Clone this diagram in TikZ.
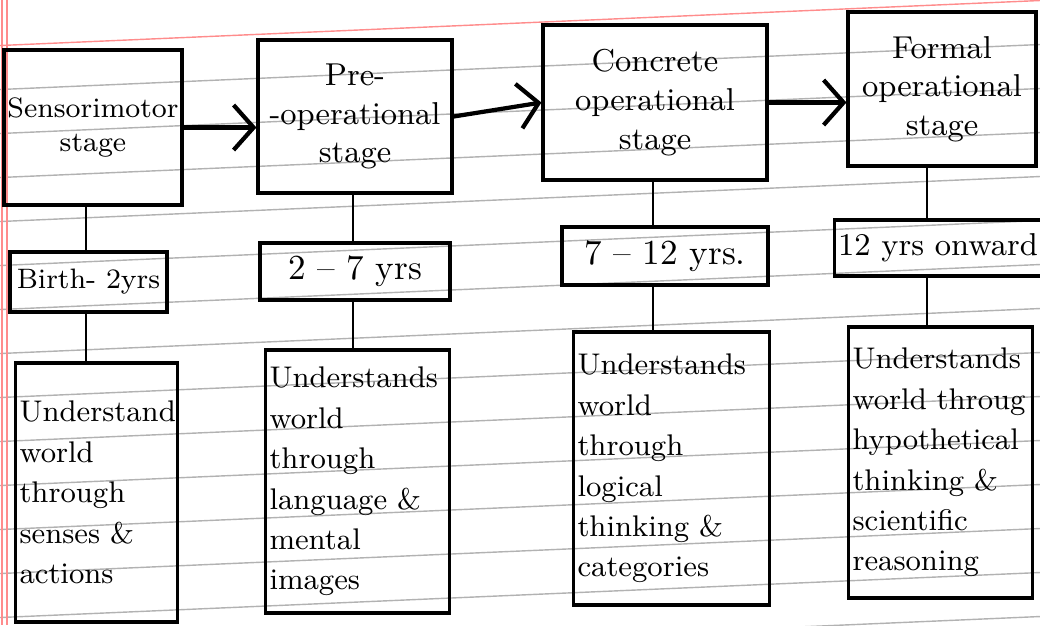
\documentclass[tikz,border=0pt]{standalone}
\usepackage{amsmath}
\usetikzlibrary{arrows.meta}

\tikzset{
    stagebox/.style={draw, line width=0.9pt, align=center, inner sep=1pt, font=\fontsize{9}{11}\selectfont},
    agebox/.style={draw, line width=0.9pt, inner sep=1pt, font=\small},
    descbox/.style={draw, line width=0.9pt, align=left, inner xsep=1.2pt, inner ysep=2pt, font=\fontsize{8.5}{11.5}\selectfont},
    link/.style={line width=0.7pt},
    stagearrow/.style={line width=1.2pt, -{Straight Barb[length=2mm,width=4.5mm,line width=1.2pt]}},
    rule/.style={black!30, line width=0.4pt},
    margin/.style={red!45, line width=0.4pt}
}

\begin{document}
\begin{tikzpicture}
    \useasboundingbox (0,0) rectangle (10.4,-6.25);

    \foreach \k in {0,...,13}
        \draw[rule] (0,-0.895-0.44*\k) -- (10.4,-0.445-0.44*\k);
    \draw[margin] (0,-0.455) -- (10.4,-0.005);
    \draw[margin] (0.02,0) -- (0.02,-6.25);
    \draw[margin] (0.07,0) -- (0.07,-6.25);

    \node[stagebox, minimum width=1.66cm, minimum height=1.55cm, font=\footnotesize] (sm) at (0.93,-1.275) {Sensorimotor\\stage};
    \node[stagebox, minimum width=1.94cm, minimum height=1.53cm] (po) at (3.55,-1.165) {Pre-\\-operational\\stage};
    \node[stagebox, minimum width=2.24cm, minimum height=1.55cm] (co) at (6.55,-1.025) {Concrete\\operational\\stage};
    \node[stagebox, minimum width=1.88cm, minimum height=1.54cm] (fo) at (9.42,-0.89) {Formal\\operational\\stage};

    \node[agebox, minimum width=1.57cm, minimum height=0.6cm, font=\footnotesize] (agesm) at (0.885,-2.82) {Birth- 2yrs};
    \node[agebox, minimum width=1.9cm, minimum height=0.57cm, font=\normalsize] (agepo) at (3.55,-2.715) {2 -- 7 yrs};
    \node[agebox, minimum width=2.06cm, minimum height=0.58cm, font=\normalsize] (ageco) at (6.65,-2.56) {7 -- 12 yrs.};
    \node[agebox, minimum width=1.96cm, minimum height=0.56cm] (agefo) at (9.38,-2.48) {12 yrs onward};

    \node[descbox, text width=1.54cm, minimum height=2.59cm] (descsm) at (0.965,-4.925)
        {Understand\\world\\through\\senses \&\\actions};
    \node[descbox, text width=1.76cm, minimum height=2.63cm] (descpo) at (3.575,-4.815)
        {Understands\\world\\through\\language \&\\mental\\images};
    \node[descbox, text width=1.88cm, minimum height=2.73cm] (descco) at (6.715,-4.685)
        {Understands\\world\\through\\logical\\thinking \&\\categories};
    \node[descbox, text width=1.76cm, minimum height=2.71cm] (descfo) at (9.405,-4.625)
        {Understands\\world throug\\hypothetical\\thinking \&\\scientific\\reasoning};

    \foreach \s/\x in {sm/0.86,po/3.53,co/6.53,fo/9.27} {
        \draw[link] (\x,0 |- \s.south) -- (\x,0 |- age\s.north);
        \draw[link] (\x,0 |- age\s.south) -- (\x,0 |- desc\s.north);
    }

    \draw[stagearrow] (sm.east) -- (sm.east -| po.west);
    \draw[stagearrow] (po.east) -- (co.west);
    \draw[stagearrow] (co.east) -- (co.east -| fo.west);
\end{tikzpicture}
\end{document}
